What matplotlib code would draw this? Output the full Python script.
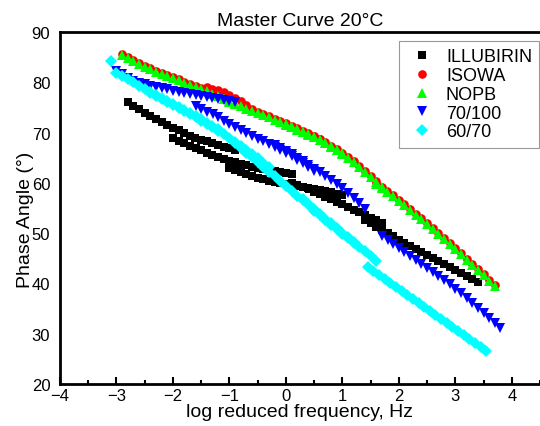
import numpy as np
import matplotlib
matplotlib.use('Agg')
import matplotlib.pyplot as plt
from matplotlib.ticker import MultipleLocator

plt.rcParams['font.family'] = ['Liberation Sans', 'DejaVu Sans']

# test frequencies of one sweep (Hz); each segment uses the first len(phase) of them
freq_hz = [0.1, 0.126, 0.158, 0.2, 0.251, 0.316, 0.398, 0.501, 0.631, 0.794, 1.0,
           1.26, 1.58, 2.0, 2.51, 3.16, 3.98, 5.01, 6.31, 7.94, 10.0, 12.6]

# log shift factor of every temperature segment and its phase angles (deg)
illubirin_shift = [-1.8, -1.0, 0.0, 1.1, 2.4]
illubirin_phase = [
    [76.0, 75.3, 74.6, 73.9, 73.3, 72.7, 72.1, 71.6, 71.0, 70.5, 69.9, 69.4, 69.0, 68.6, 68.3, 67.9, 67.6, 67.2, 66.9, 66.6],
    [68.9, 68.4, 67.9, 67.4, 67.0, 66.5, 66.0, 65.6, 65.2, 64.8, 64.4, 64.1, 63.8, 63.5, 63.2, 62.9, 62.7, 62.5, 62.3, 62.1, 61.9, 61.7],
    [62.9, 62.5, 62.1, 61.7, 61.3, 61.0, 60.7, 60.4, 60.1, 59.9, 59.7, 59.5, 59.3, 59.1, 58.9, 58.7, 58.5, 58.3, 58.1, 57.8, 57.5],
    [60.0, 59.6, 59.2, 58.7, 58.2, 57.7, 57.2, 56.7, 56.2, 55.7, 55.2, 54.7, 54.2, 53.6, 53.1, 52.6, 52.0],
    [52.6, 52.0, 51.3, 50.7, 50.0, 49.4, 48.7, 48.1, 47.5, 46.9, 46.3, 45.7, 45.1, 44.5, 43.9, 43.3, 42.7, 42.1, 41.5, 40.9, 40.3],
]

isowa_shift = [-1.9, -0.4, 1.4, 2.6]
isowa_phase = [
    [85.6, 85.0, 84.4, 83.8, 83.3, 82.8, 82.3, 81.8, 81.4, 81.0, 80.6, 80.1, 79.7, 79.3, 78.8, 78.4, 77.9],
    [79.0, 78.7, 78.4, 78.0, 77.5, 76.9, 76.2, 75.4, 74.6, 74.1, 73.7, 73.2, 72.7, 72.3, 71.9, 71.4, 70.9, 70.4, 69.9, 69.4, 68.8],
    [69.8, 69.3, 68.7, 68.1, 67.4, 66.7, 66.0, 65.2, 64.3, 63.4, 62.4, 61.4, 60.4],
    [60.0, 59.2, 58.3, 57.5, 56.6, 55.7, 54.8, 53.9, 53.0, 52.0, 51.0, 50.0, 49.0, 48.0, 47.0, 46.0, 44.9, 43.9, 42.8, 41.8, 40.7, 39.7],
]

nopb_shift = [-1.9, -0.1, 1.0, 2.6]
nopb_phase = [
    [85.4, 84.8, 84.2, 83.6, 83.1, 82.6, 82.1, 81.6, 81.2, 80.8, 80.4, 79.9, 79.5, 79.1, 78.6, 78.2, 77.7, 77.2, 76.7, 76.2, 75.7],
    [76.6, 76.1, 75.6, 75.2, 74.7, 74.3, 73.8, 73.4, 73.0, 72.5, 72.1, 71.7, 71.2, 70.7, 70.2, 69.7, 69.2, 68.6, 68.0, 67.3, 66.6, 65.9],
    [71.6, 71.1, 70.6, 70.1, 69.6, 69.1, 68.5, 67.9, 67.2, 66.5, 65.8, 65.0, 64.1, 63.2, 62.2, 61.2, 60.2, 59.2],
    [59.8, 59.0, 58.1, 57.3, 56.4, 55.5, 54.6, 53.7, 52.8, 51.8, 50.8, 49.8, 48.8, 47.8, 46.8, 45.8, 44.7, 43.7, 42.6, 41.6, 40.5, 39.5],
]

pen70_shift = [-2.0, -0.6, 0.8, 2.7]
pen70_phase = [
    [82.2, 81.6, 80.9, 80.3, 79.9, 79.6, 79.3, 79.0, 78.8, 78.6, 78.3, 78.1, 77.9, 77.7, 77.5, 77.3, 77.1, 76.9, 76.7, 76.5, 76.3, 76.0],
    [75.2, 74.7, 74.1, 73.6, 73.0, 72.4, 71.7, 71.1, 70.5, 69.9, 69.3, 68.8, 68.3, 67.8, 67.2, 66.6, 66.0, 65.3, 64.6, 63.9, 63.1, 62.4],
    [67.6, 67.0, 66.4, 65.7, 65.0, 64.3, 63.5, 62.8, 62.1, 61.4, 60.6, 59.8, 58.9, 58.0, 57.0, 55.9, 54.8],
    [49.4, 48.6, 47.8, 47.0, 46.2, 45.4, 44.6, 43.8, 43.0, 42.2, 41.4, 40.6, 39.8, 38.9, 38.0, 37.1, 36.2, 35.2, 34.2, 33.2, 32.2, 31.2],
]

pen60_shift = [-2.1, -1.4, 0.1, 1.3, 2.45]
pen60_phase = [
    [84.2, 81.9, 81.2, 80.6, 80.0, 79.3, 78.6, 78.0, 77.4, 76.8, 76.2, 75.6, 75.0, 74.4, 73.8, 73.2, 72.6, 72.0, 71.4, 70.7],
    [77.8, 77.3, 76.7, 76.1, 75.5, 74.9, 74.3, 73.7, 73.0, 72.4, 71.7, 71.1, 70.4, 69.7, 68.9, 68.2, 67.4, 66.6, 65.8, 64.9, 64.0, 63.1],
    [67.9, 67.0, 66.0, 65.1, 64.1, 63.2, 62.2, 61.3, 60.3, 59.4, 58.4, 57.4, 56.5, 55.5, 54.5, 53.6, 52.6, 51.7, 50.8, 49.9, 49.0, 48.1],
    [56.7, 55.8, 54.8, 53.9, 52.9, 52.0, 51.1, 50.1, 49.2, 48.3, 47.3, 46.4, 45.4, 44.5],
    [43.3, 42.5, 41.7, 40.9, 40.1, 39.3, 38.5, 37.7, 36.9, 36.1, 35.3, 34.5, 33.7, 32.9, 32.1, 31.3, 30.5, 29.7, 28.9, 28.1, 27.4, 26.6],
]


def master(shifts, phases):
    xs, ys = [], []
    for s, ph in zip(shifts, phases):
        xs.append(np.log10(freq_hz[:len(ph)]) + s)
        ys.append(np.array(ph))
    return np.concatenate(xs), np.concatenate(ys)


series = [
    ('ILLUBIRIN', illubirin_shift, illubirin_phase, 's', '#000000', 5.6),
    ('ISOWA', isowa_shift, isowa_phase, 'o', '#ff0000', 6.2),
    ('NOPB', nopb_shift, nopb_phase, '^', '#00ff00', 7.2),
    ('70/100', pen70_shift, pen70_phase, 'v', '#0000ff', 7.2),
    ('60/70', pen60_shift, pen60_phase, 'D', '#00ffff', 5.8),
]

fig = plt.figure(figsize=(5.4, 4.27), dpi=100)
ax = fig.add_axes([60/540, 42/427, 480/540, 352/427])

for name, sh, ph, mk, col, ms in series:
    x, y = master(sh, ph)
    ax.plot(x, y, ls='none', marker=mk, color=col, ms=ms, mew=0, label=name)

ax.set_xlim(-4, 4.5)
ax.set_ylim(20, 90)
ax.xaxis.set_major_locator(MultipleLocator(1))
ax.xaxis.set_minor_locator(MultipleLocator(0.5))
ax.yaxis.set_major_locator(MultipleLocator(10))
ax.tick_params(axis='x', which='major', direction='in', length=5, width=1.5, labelsize=12, pad=3)
ax.tick_params(axis='x', which='minor', direction='in', length=3, width=1.5)
ax.tick_params(axis='y', which='both', length=0, labelsize=12, pad=7)
for side in ['left', 'bottom', 'top']:
    ax.spines[side].set_linewidth(2)
ax.spines['right'].set_visible(False)

ax.set_xlabel('log reduced frequency, Hz', fontsize=14, labelpad=0)
ax.set_ylabel('Phase Angle (°)', fontsize=14)
ax.yaxis.set_label_coords(-0.055, 0.47)
ax.set_title('Master Curve 20°C', fontsize=14, pad=5)

leg = ax.legend(loc='upper left', bbox_to_anchor=(399/540, 1 - 42/427),
                bbox_transform=fig.transFigure, fontsize=13, frameon=True,
                fancybox=False, edgecolor='#808080', borderpad=0.4,
                handletextpad=0.4, labelspacing=0.1, handlelength=1.8, borderaxespad=0)
leg.get_frame().set_linewidth(0.8)

fig.savefig('out.png', dpi=100)
